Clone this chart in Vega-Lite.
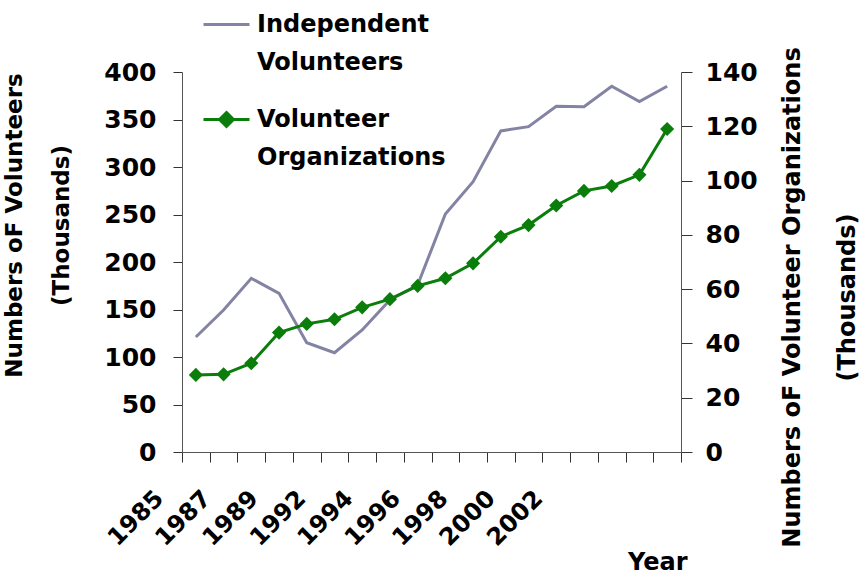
{
  "$schema": "https://vega.github.io/schema/vega-lite/v6.json",
  "width": 499,
  "height": 380,
  "autosize": {"type": "none"},
  "padding": {"left": 182, "top": 72, "right": 184, "bottom": 134},
  "background": "white",
  "config": {"view": {"stroke": null}, "font": "DejaVu Sans"},
  "data": {
    "values": [
      {"year": "1985", "series": "Independent Volunteers", "value": 121},
      {"year": "1986", "series": "Independent Volunteers", "value": 149.5},
      {"year": "1987", "series": "Independent Volunteers", "value": 182.8},
      {"year": "1988", "series": "Independent Volunteers", "value": 167},
      {"year": "1989", "series": "Independent Volunteers", "value": 115},
      {"year": "1990", "series": "Independent Volunteers", "value": 104.5},
      {"year": "1992", "series": "Independent Volunteers", "value": 128.4},
      {"year": "1993", "series": "Independent Volunteers", "value": 160},
      {"year": "1994", "series": "Independent Volunteers", "value": 175.8},
      {"year": "1995", "series": "Independent Volunteers", "value": 250.5},
      {"year": "1996", "series": "Independent Volunteers", "value": 284.5},
      {"year": "1997", "series": "Independent Volunteers", "value": 338},
      {"year": "1998", "series": "Independent Volunteers", "value": 342.5},
      {"year": "1999", "series": "Independent Volunteers", "value": 364},
      {"year": "2000", "series": "Independent Volunteers", "value": 363.5},
      {"year": "2001", "series": "Independent Volunteers", "value": 385},
      {"year": "2002", "series": "Independent Volunteers", "value": 368.8},
      {"year": "2003", "series": "Independent Volunteers", "value": 385},
      {"year": "1985", "series": "Volunteer Organizations", "value": 28.4},
      {"year": "1986", "series": "Volunteer Organizations", "value": 28.6},
      {"year": "1987", "series": "Volunteer Organizations", "value": 32.7},
      {"year": "1988", "series": "Volunteer Organizations", "value": 44.0},
      {"year": "1989", "series": "Volunteer Organizations", "value": 47.2},
      {"year": "1990", "series": "Volunteer Organizations", "value": 48.9},
      {"year": "1992", "series": "Volunteer Organizations", "value": 53.3},
      {"year": "1993", "series": "Volunteer Organizations", "value": 56.3},
      {"year": "1994", "series": "Volunteer Organizations", "value": 61.2},
      {"year": "1995", "series": "Volunteer Organizations", "value": 64.0},
      {"year": "1996", "series": "Volunteer Organizations", "value": 69.5},
      {"year": "1997", "series": "Volunteer Organizations", "value": 79.3},
      {"year": "1998", "series": "Volunteer Organizations", "value": 83.6},
      {"year": "1999", "series": "Volunteer Organizations", "value": 90.8},
      {"year": "2000", "series": "Volunteer Organizations", "value": 96.2},
      {"year": "2001", "series": "Volunteer Organizations", "value": 98.0},
      {"year": "2002", "series": "Volunteer Organizations", "value": 102.1},
      {"year": "2003", "series": "Volunteer Organizations", "value": 119.0}
    ]
  },
  "layer": [
    {
      "transform": [{"filter": "datum.series === 'Independent Volunteers'"}],
      "mark": {"type": "line", "strokeWidth": 3},
      "encoding": {
        "x": {
          "field": "year",
          "type": "ordinal",
          "sort": null,
          "scale": {"paddingInner": 0, "paddingOuter": 0},
          "axis": {
            "title": null,
            "labels": false,
            "tickBand": "extent",
            "tickSize": 10,
            "tickColor": "#333333",
            "domainColor": "#555555",
            "grid": false
          }
        },
        "y": {
          "field": "value",
          "type": "quantitative",
          "scale": {"domain": [0, 400], "nice": false},
          "axis": {
            "values": [0, 50, 100, 150, 200, 250, 300, 350, 400],
            "title": ["Numbers oF Volunteers", "(Thousands)"],
            "titleFont": "DejaVu Sans",
            "titleFontSize": 23,
            "titleFontWeight": "bold",
            "titleColor": "black",
            "titleAngle": -90,
            "titleAlign": "center",
            "titleBaseline": "top",
            "titleLineHeight": 47,
            "titleX": -179,
            "titleY": 153,
            "labelFont": "DejaVu Sans",
            "labelFontSize": 25,
            "labelFontWeight": "bold",
            "labelColor": "black",
            "labelPadding": 17,
            "tickSize": 9,
            "tickColor": "#333333",
            "domainColor": "#555555",
            "grid": false
          }
        },
        "color": {
          "field": "series",
          "type": "nominal",
          "scale": {"domain": ["Independent Volunteers", "Volunteer Organizations"], "range": ["#8383a3", "#0b7d0b"]},
          "legend": {
            "orient": "none",
            "legendX": 20,
            "legendY": -72,
            "title": null,
            "padding": 0,
            "labelFont": "DejaVu Sans",
            "labelFontSize": 24,
            "labelFontWeight": "bold",
            "labelColor": "black",
            "labelLimit": 400,
            "labelOffset": 6,
            "labelExpr": "split(datum.label, ' ')",
            "symbolType": "M-1,0H1",
            "symbolSize": 2116,
            "symbolStrokeWidth": 3,
            "rowPadding": 20,
            "encode": {
              "labels": {"update": {"lineHeight": {"value": 38}}},
              "symbols": {
                "update": {
                  "shape": {"signal": "datum.value === 'Volunteer Organizations' ? 'M-1,0H1M0,-0.3L0.3,0L0,0.3L-0.3,0Z' : 'M-1,0H1'"},
                  "fill": {"signal": "datum.value === 'Volunteer Organizations' ? '#0b7d0b' : 'transparent'"}
                }
              }
            }
          }
        }
      }
    },
    {
      "transform": [{"filter": "datum.series === 'Volunteer Organizations'"}],
      "mark": {"type": "line", "strokeWidth": 3, "point": {"shape": "diamond", "size": 200, "filled": true}},
      "encoding": {
        "x": {
          "field": "year",
          "type": "ordinal",
          "sort": null,
          "scale": {"paddingInner": 0, "paddingOuter": 0},
          "axis": null
        },
        "y": {
          "field": "value",
          "type": "quantitative",
          "scale": {"domain": [0, 140], "nice": false},
          "axis": {
            "orient": "right",
            "values": [0, 20, 40, 60, 80, 100, 120, 140],
            "title": ["Numbers oF Volunteer Organizations", "(Thousands)"],
            "titleFont": "DejaVu Sans",
            "titleFontSize": 24,
            "titleFontWeight": "bold",
            "titleColor": "black",
            "titleAngle": -90,
            "titleAlign": "center",
            "titleBaseline": "top",
            "titleLineHeight": 55,
            "titleX": 99,
            "titleY": 225,
            "labelFont": "DejaVu Sans",
            "labelFontSize": 25,
            "labelFontWeight": "bold",
            "labelColor": "black",
            "labelPadding": 13,
            "tickSize": 11,
            "tickColor": "#333333",
            "domainColor": "#555555",
            "grid": false
          }
        },
        "color": {"field": "series", "type": "nominal"}
      }
    },
    {
      "transform": [{"filter": "datum.series === 'Independent Volunteers'"}],
      "mark": {"type": "point", "opacity": 0},
      "encoding": {
        "x": {
          "field": "year",
          "type": "ordinal",
          "sort": null,
          "scale": {"range": [-43, 383.6], "paddingInner": 0, "paddingOuter": 0},
          "axis": {
            "orient": "bottom",
            "title": "Year",
            "titleFont": "DejaVu Sans",
            "titleFontSize": 24,
            "titleFontWeight": "bold",
            "titleColor": "black",
            "titleAlign": "right",
            "titleBaseline": "alphabetic",
            "titleX": 505,
            "titleY": 117,
            "domain": false,
            "ticks": false,
            "tickSize": 0,
            "labelExpr": "indexof(['1985','1987','1989','1992','1994','1996','1998','2000','2002'], datum.label) >= 0 ? datum.label : ''",
            "labelAngle": -45,
            "labelAlign": "right",
            "labelBaseline": "top",
            "labelFont": "DejaVu Sans",
            "labelFontSize": 24,
            "labelFontWeight": "bold",
            "labelColor": "black",
            "labelPadding": 34,
            "labelOverlap": false,
            "labelBound": false,
            "labelFlush": false,
            "grid": false
          }
        },
        "color": {"value": "transparent"}
      }
    }
  ],
  "resolve": {"scale": {"y": "independent", "x": "independent"}, "axis": {"x": "independent"}}
}
